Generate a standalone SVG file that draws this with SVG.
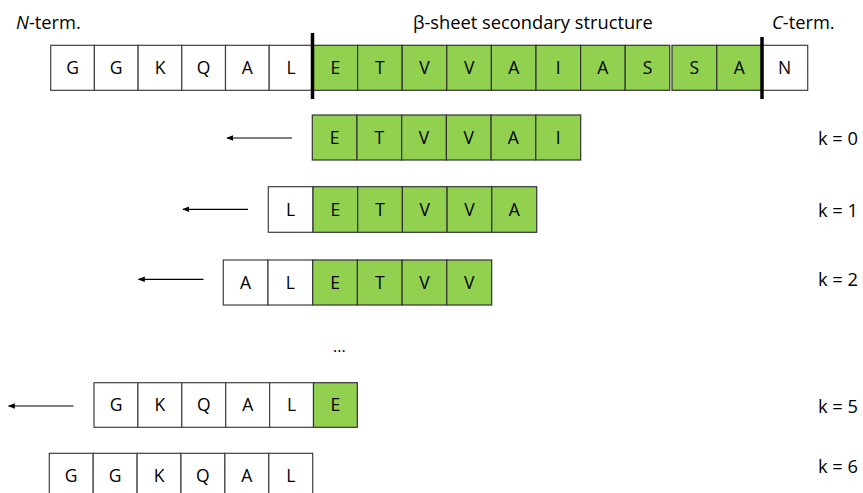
<svg xmlns="http://www.w3.org/2000/svg" width="863" height="493" viewBox="0 0 863 493">
<defs>
<marker id="ah" viewBox="0 0 10 10" refX="9" refY="5" markerWidth="7" markerHeight="7" orient="auto" markerUnits="userSpaceOnUse">
<path d="M0,1 L10,5 L0,9 Z" fill="#000"/>
</marker>
</defs>
<style>
text{font-family:"Open Sans","Noto Sans",sans-serif;fill:#000;}
.c{font-size:17.5px;text-anchor:middle;}
.w{fill:#fff;stroke:#404040;stroke-width:1.2;}
.g{fill:#92D050;stroke:#333;stroke-width:1.2;}
.lbl{font-size:18.3px;}
.bar{stroke:#000;stroke-width:3.5;}
.arr{stroke:#000;stroke-width:1.2;fill:none;}
</style>
<rect width="863" height="493" fill="#fff"/>

<g id="labels">
<text class="lbl" x="16" y="28.5"><tspan font-style="italic">N</tspan>-term.</text>
<text class="lbl" x="413" y="28.5">β-sheet secondary structure</text>
<text class="lbl" x="772" y="28.5"><tspan font-style="italic">C</tspan>-term.</text>
</g>

<g id="row-full">
<rect class="w" x="50.7" y="45.3" width="43.7" height="45"/>
<rect class="w" x="94.4" y="45.3" width="43.7" height="45"/>
<rect class="w" x="138.1" y="45.3" width="43.7" height="45"/>
<rect class="w" x="181.8" y="45.3" width="43.7" height="45"/>
<rect class="w" x="225.5" y="45.3" width="43.7" height="45"/>
<rect class="w" x="269.2" y="45.3" width="43.7" height="45"/>
<rect class="g" x="313" y="45.3" width="44.6" height="45"/>
<rect class="g" x="357.6" y="45.3" width="44.6" height="45"/>
<rect class="g" x="402.2" y="45.3" width="44.6" height="45"/>
<rect class="g" x="446.8" y="45.3" width="44.6" height="45"/>
<rect class="g" x="491.4" y="45.3" width="44.6" height="45"/>
<rect class="g" x="536" y="45.3" width="44.6" height="45"/>
<rect class="g" x="580.6" y="45.3" width="44.6" height="45"/>
<rect class="g" x="625.2" y="45.3" width="44.6" height="45"/>
<rect class="g" x="672" y="45.3" width="44.8" height="45"/>
<rect class="g" x="716.8" y="45.3" width="44.8" height="45"/>
<rect class="w" x="761.7" y="45.3" width="46" height="45"/>
<text class="c" x="72.5" y="74.2">G</text>
<text class="c" x="116.2" y="74.2">G</text>
<text class="c" x="160" y="74.2">K</text>
<text class="c" x="203.6" y="74.2">Q</text>
<text class="c" x="247.3" y="74.2">A</text>
<text class="c" x="291" y="74.2">L</text>
<text class="c" x="335.3" y="74.2">E</text>
<text class="c" x="379.9" y="74.2">T</text>
<text class="c" x="424.5" y="74.2">V</text>
<text class="c" x="469.1" y="74.2">V</text>
<text class="c" x="513.7" y="74.2">A</text>
<text class="c" x="558.3" y="74.2">I</text>
<text class="c" x="602.9" y="74.2">A</text>
<text class="c" x="647.5" y="74.2">S</text>
<text class="c" x="694.4" y="74.2">S</text>
<text class="c" x="739.2" y="74.2">A</text>
<text class="c" x="784.7" y="74.2">N</text>
<line class="bar" x1="312.5" y1="33" x2="312.5" y2="99"/>
<line class="bar" x1="762" y1="37" x2="762" y2="99"/>
</g>

<g id="row-k0">
<rect class="g" x="312.3" y="115" width="44.7" height="45"/>
<rect class="g" x="357" y="115" width="44.7" height="45"/>
<rect class="g" x="401.7" y="115" width="44.7" height="45"/>
<rect class="g" x="446.4" y="115" width="44.7" height="45"/>
<rect class="g" x="491.1" y="115" width="44.7" height="45"/>
<rect class="g" x="535.8" y="115" width="44.9" height="45"/>
<text class="c" x="334.6" y="143.8">E</text>
<text class="c" x="379.3" y="143.8">T</text>
<text class="c" x="424" y="143.8">V</text>
<text class="c" x="468.7" y="143.8">V</text>
<text class="c" x="513.4" y="143.8">A</text>
<text class="c" x="558.2" y="143.8">I</text>
</g>

<g id="row-k1">
<rect class="w" x="268.3" y="186.7" width="44.7" height="45.6"/>
<rect class="g" x="313" y="186.7" width="44.7" height="45.6"/>
<rect class="g" x="357.7" y="186.7" width="44.7" height="45.6"/>
<rect class="g" x="402.4" y="186.7" width="44.7" height="45.6"/>
<rect class="g" x="447.1" y="186.7" width="44.7" height="45.6"/>
<rect class="g" x="491.8" y="186.7" width="44.9" height="45.6"/>
<text class="c" x="290.6" y="215.8">L</text>
<text class="c" x="335.3" y="215.8">E</text>
<text class="c" x="380" y="215.8">T</text>
<text class="c" x="424.7" y="215.8">V</text>
<text class="c" x="469.4" y="215.8">V</text>
<text class="c" x="514.2" y="215.8">A</text>
</g>

<g id="row-k2">
<rect class="w" x="223.3" y="260" width="44.7" height="45"/>
<rect class="w" x="268" y="260" width="44.7" height="45"/>
<rect class="g" x="312.7" y="260" width="44.7" height="45"/>
<rect class="g" x="357.4" y="260" width="44.7" height="45"/>
<rect class="g" x="402.1" y="260" width="44.7" height="45"/>
<rect class="g" x="446.8" y="260" width="44.9" height="45"/>
<text class="c" x="245.6" y="288.8">A</text>
<text class="c" x="290.3" y="288.8">L</text>
<text class="c" x="335" y="288.8">E</text>
<text class="c" x="379.7" y="288.8">T</text>
<text class="c" x="424.4" y="288.8">V</text>
<text class="c" x="469.2" y="288.8">V</text>
</g>

<g id="ellipsis">
<text x="333" y="352" style="font-size:16px">...</text>
</g>

<g id="row-k5">
<rect class="w" x="94" y="382.7" width="43.9" height="44.6"/>
<rect class="w" x="137.9" y="382.7" width="43.9" height="44.6"/>
<rect class="w" x="181.8" y="382.7" width="43.9" height="44.6"/>
<rect class="w" x="225.7" y="382.7" width="43.9" height="44.6"/>
<rect class="w" x="269.6" y="382.7" width="43.9" height="44.6"/>
<rect class="g" x="313.5" y="382.7" width="43.8" height="44.6"/>
<text class="c" x="116" y="411.3">G</text>
<text class="c" x="159.9" y="411.3">K</text>
<text class="c" x="203.8" y="411.3">Q</text>
<text class="c" x="247.7" y="411.3">A</text>
<text class="c" x="291.6" y="411.3">L</text>
<text class="c" x="335.4" y="411.3">E</text>
</g>

<g id="row-k6">
<rect class="w" x="49.3" y="453.3" width="43.9" height="45"/>
<rect class="w" x="93.2" y="453.3" width="43.9" height="45"/>
<rect class="w" x="137.1" y="453.3" width="43.9" height="45"/>
<rect class="w" x="181" y="453.3" width="43.9" height="45"/>
<rect class="w" x="224.9" y="453.3" width="43.9" height="45"/>
<rect class="w" x="268.8" y="453.3" width="43.9" height="45"/>
<text class="c" x="71.2" y="482">G</text>
<text class="c" x="115.1" y="482">G</text>
<text class="c" x="159" y="482">K</text>
<text class="c" x="202.9" y="482">Q</text>
<text class="c" x="246.8" y="482">A</text>
<text class="c" x="290.7" y="482">L</text>
</g>

<g id="k-labels">
<text class="lbl" x="818" y="144.5">k = 0</text>
<text class="lbl" x="818" y="217">k = 1</text>
<text class="lbl" x="818" y="286">k = 2</text>
<text class="lbl" x="818" y="413">k = 5</text>
<text class="lbl" x="818" y="473">k = 6</text>
</g>

<g id="connectors">
<line class="arr" x1="292" y1="138" x2="227" y2="138" marker-end="url(#ah)"/>
<line class="arr" x1="248" y1="209.3" x2="183" y2="209.3" marker-end="url(#ah)"/>
<line class="arr" x1="203.5" y1="279.3" x2="138.5" y2="279.3" marker-end="url(#ah)"/>
<line class="arr" x1="73.5" y1="406" x2="8.5" y2="406" marker-end="url(#ah)"/>
</g>
</svg>
